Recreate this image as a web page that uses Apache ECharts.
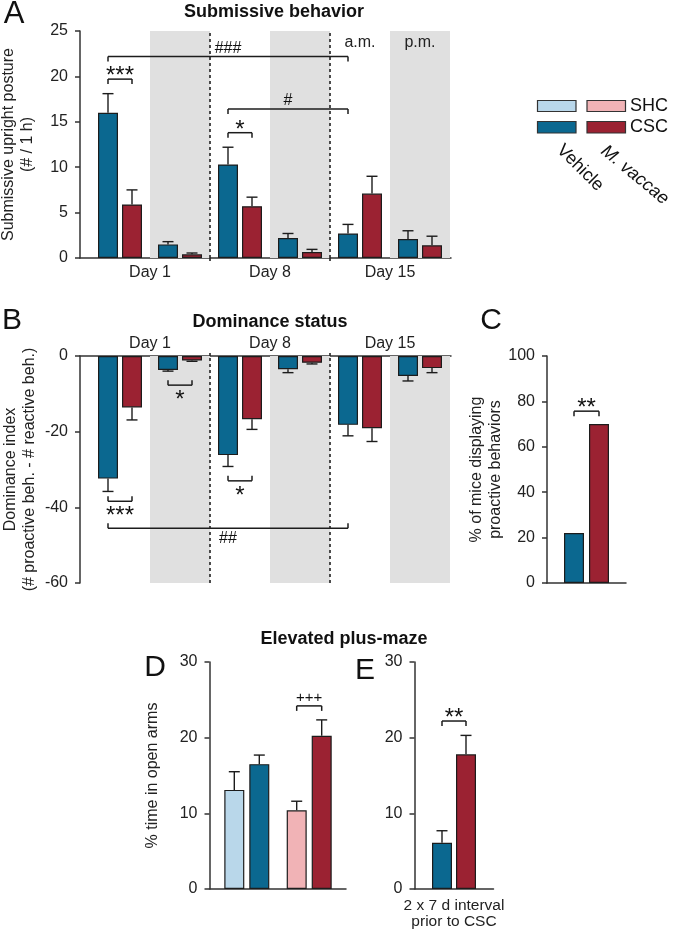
<!DOCTYPE html>
<html><head><meta charset="utf-8">
<script src="https://cdn.jsdelivr.net/npm/echarts@6/dist/echarts.min.js"></script>
<style>html,body{margin:0;padding:0;background:#fff}#c{width:677px;height:938px}</style>
</head><body><div id="c"></div>
<script>
// ---------------- data ----------------
const sessions = ['Day 1 a.m.','Day 1 p.m.','Day 8 a.m.','Day 8 p.m.','Day 15 a.m.','Day 15 p.m.'];
const dayLabels = ['Day 1','Day 8','Day 15'];
const pmBands = [[1,2],[3,4],[5,6]];
const dayDividers = [2,4];
const sessionTags = [{range:[4,5], text:'a.m.'},{range:[5,6], text:'p.m.'}];

const subAxis = [0,25,5];
const subVehicle    = [16.0, 1.5, 10.3, 2.2, 2.7, 2.1];
const subVehicleSem = [2.1, 0.3, 1.9, 0.5, 1.0, 0.9];
const subVaccae     = [5.9, 0.4, 5.7, 0.65, 7.1, 1.4];
const subVaccaeSem  = [1.6, 0.15, 1.0, 0.3, 1.9, 1.0];
const subBrackets = [
  {a:[0,0], b:[4,0], y:22.2, text:'###'},
  {a:[0,0], b:[0,1], y:19.7, text:'***'},
  {a:[2,0], b:[4,0], y:16.4, text:'#'},
  {a:[2,0], b:[2,1], y:13.8, text:'*'}
];

const domAxis = [-60,0,20];
const domVehicle    = [-32.4, -3.7, -26.2, -3.5, -18.2, -5.3];
const domVehicleSem = [3.4, 0.3, 3.0, 0.9, 2.9, 1.3];
const domVaccae     = [-13.6, -1.2, -16.7, -1.8, -19.1, -3.2];
const domVaccaeSem  = [3.3, 0.2, 2.7, 0.3, 3.5, 1.2];
const domBrackets = [
  {a:[0,0], b:[0,1], y:-38.4, text:'***'},
  {a:[1,0], b:[1,1], y:-7.7, text:'*'},
  {a:[2,0], b:[2,1], y:-33.0, text:'*'},
  {a:[0,0], b:[4,0], y:-45.5, text:'##'}
];

const proAxis = [0,100,20];
const proCategories = ['CSC'];
const proVehicle = [22];
const proVaccae = [70];
const proBrackets = [{a:[0,0], b:[0,1], y:75.7, text:'**'}];

const epmAxis = [0,30,10];
const epmCategories = ['Vehicle','M. vaccae'];
const epmSHC    = [13.1, 10.4];
const epmSHCSem = [2.4, 1.2];
const epmCSC    = [16.5, 20.25];
const epmCSCSem = [1.2, 2.1];
const epmBrackets = [{a:[1,0], b:[1,1], y:24.2, text:'+++'}];

const intCategories = ['2 x 7 d interval\nprior to CSC'];
const intVehicle = [6.1];
const intVehicleSem = [1.6];
const intVaccae = [17.8];
const intVaccaeSem = [2.5];
const intBrackets = [{a:[0,0], b:[0,1], y:22.2, text:'**'}];

// ---------------- styles ----------------
const FONT = 'Liberation Sans, Arial, sans-serif';
const VEH = '#0b6890', VAC = '#9b2232', SHC_B = '#b9d7ea', SHC_P = '#f1b3b6', BAND = '#e0e0e0';
const INK = '#222', LINE = '#333';
const axLine = {show:true, lineStyle:{color:LINE, width:1.5}};

function grid(left, top, width, height){
  return {left, top, width, height, containLabel:false, outerBoundsMode:'none'};
}
function frameY(gridIndex, ax, name, nameGap){
  return {type:'value', gridIndex, min:ax[0], max:ax[1], interval:ax[2],
    axisLine:axLine, axisTick:{show:true, length:5, lineStyle:{color:LINE, width:1.5}},
    axisLabel:{fontSize:16, color:INK, margin:12, fontFamily:FONT}, splitLine:{show:false},
    name, nameLocation:'middle', nameGap, nameRotate:90, nameMoveOverlap:false,
    nameTextStyle:{fontSize:16, color:INK, lineHeight:19, fontFamily:FONT}};
}
function hiddenY(gridIndex, ax){
  return {type:'value', gridIndex, min:ax[0], max:ax[1], interval:ax[2], show:false};
}
function frameX(gridIndex, position){
  return {type:'value', gridIndex, min:0, max:1, position, axisLine:axLine,
    axisTick:{show:false}, axisLabel:{show:false}, splitLine:{show:false}};
}
function bars(xi, yi, data, color, gap){
  return {type:'bar', xAxisIndex:xi, yAxisIndex:yi, data, barWidth:20, barGap:gap,
    itemStyle:{color, borderColor:'#1c1c1c', borderWidth:1.2}, silent:true, z:2};
}
function errs(xi, yi, vals, sems, offset){
  return {type:'custom', xAxisIndex:xi, yAxisIndex:yi, silent:true, z:3,
    data: vals.map((v,i)=>[i, v, sems[i]]),
    renderItem:(params, api)=>{
      const i = api.value(0), v = api.value(1), e = api.value(2);
      const s = v < 0 ? -1 : 1;
      const p0 = api.coord([i, v]), p1 = api.coord([i, v + s*e]);
      const x = p0[0] + offset, cap = 11;
      const st = {stroke:'#1c1c1c', lineWidth:1.4};
      return {type:'group', children:[
        {type:'line', shape:{x1:x, y1:p0[1], x2:x, y2:p1[1]}, style:st},
        {type:'line', shape:{x1:x-cap/2, y1:p1[1], x2:x+cap/2, y2:p1[1]}, style:st}
      ]};
    }};
}
function brackets(xi, yi, list, offset, dir){
  return {type:'custom', xAxisIndex:xi, yAxisIndex:yi, silent:true, z:4,
    data: list.map(b=>[b.a[0], b.y]),
    renderItem:(params, api)=>{
      const b = list[params.dataIndex];
      const pA = api.coord([b.a[0], b.y]), pB = api.coord([b.b[0], b.y]);
      const xa = pA[0] + (b.a[1] ? offset : -offset);
      const xb = pB[0] + (b.b[1] ? offset : -offset);
      const y = pA[1];
      const st = {stroke:'#1c1c1c', lineWidth:1.5};
      const ch = b.text[0];
      const fs = ch === '*' ? 24 : (ch === '+' ? 15 : 16);
      const shift = ch === '*' ? 0.23*fs : 0;
      const ty = y - dir*(dir > 0 ? 8 : 10) + shift;
      return {type:'group', children:[
        {type:'line', shape:{x1:xa, y1:y, x2:xb, y2:y}, style:st},
        {type:'line', shape:{x1:xa, y1:y, x2:xa, y2:y + 5*dir}, style:st},
        {type:'line', shape:{x1:xb, y1:y, x2:xb, y2:y + 5*dir}, style:st},
        {type:'text', x:(xa+xb)/2, y:ty, style:{text:b.text, fill:'#111', fontSize:fs, fontFamily:FONT,
          align:'center', verticalAlign:'middle', textAlign:'center', textVerticalAlign:'middle'}}
      ]};
    }};
}
function bandCarrier(xi, yi, withTags){
  const areas = pmBands.map(r=>[{xAxis:r[0], itemStyle:{color:BAND}, label:{show:false}}, {xAxis:r[1]}]);
  if (withTags) sessionTags.forEach(t=>areas.push([{xAxis:t.range[0], name:t.text, itemStyle:{color:'rgba(0,0,0,0)'}}, {xAxis:t.range[1]}]));
  return {type:'line', xAxisIndex:xi, yAxisIndex:yi, data:[[0,0]], symbol:'none', showSymbol:false,
    lineStyle:{opacity:0, width:0}, silent:true, z:0,
    markArea:{silent:true, label:{show:true, position:'insideTop', distance:4, fontSize:16, color:INK, fontFamily:FONT}, data:areas},
    markLine:{silent:true, symbol:['none','none'], label:{show:false},
      lineStyle:{type:[3,3], color:'#222', width:1.6}, data: dayDividers.map(x=>({xAxis:x}))}};
}
function txt(x, y, text, size, weight, extra){
  return Object.assign({type:'text', x, y, silent:true, style:{text, fill:'#111', fontSize:size, fontWeight:weight||'normal', fontFamily:FONT,
    align:'center', verticalAlign:'middle', textAlign:'center', textVerticalAlign:'middle'}}, extra||{});
}

// ---------------- option ----------------
const option = {
  animation:false,
  backgroundColor:'#fff',
  textStyle:{fontFamily:FONT},
  grid:[
    grid(90, 31, 360, 227),     // 0 A data
    grid(80, 31, 371, 227),     // 1 A frame
    grid(90, 356, 360, 227),    // 2 B data
    grid(80, 356, 371, 227),    // 3 B frame
    grid(547, 356, 79, 227),    // 4 C
    grid(215.6, 662, 124.8, 227), // 5 D data
    grid(209.5, 662, 136.5, 227), // 6 D frame
    grid(414.5, 662, 79, 227)   // 7 E
  ],
  xAxis:[
    {type:'category', gridIndex:0, data:sessions, show:false},
    {type:'category', gridIndex:0, data:dayLabels, position:'bottom', axisLine:{show:false}, axisTick:{show:false},
      axisLabel:{fontSize:16, color:INK, margin:7}},
    {type:'value', gridIndex:0, min:0, max:6, position:'bottom', axisLine:{show:false}, axisLabel:{show:false}, splitLine:{show:false},
      axisTick:{show:true, customValues:dayDividers, length:4, lineStyle:{type:[3,3], color:'#222', width:1.6}}},
    frameX(1, 'bottom'),
    {type:'category', gridIndex:2, data:sessions, show:false},
    {type:'category', gridIndex:2, data:dayLabels, position:'top', axisLine:{show:false}, axisTick:{show:false},
      axisLabel:{fontSize:16, color:INK, margin:4}},
    {type:'value', gridIndex:2, min:0, max:6, position:'top', axisLine:{show:false}, axisLabel:{show:false}, splitLine:{show:false},
      axisTick:{show:true, customValues:dayDividers, length:4, lineStyle:{type:[3,3], color:'#222', width:1.6}}},
    frameX(3, 'top'),
    {type:'category', gridIndex:4, data:proCategories, axisLine:axLine, axisTick:{show:false}, axisLabel:{show:false}},
    {type:'category', gridIndex:5, data:epmCategories, show:false},
    frameX(6, 'bottom'),
    {type:'category', gridIndex:7, data:intCategories, axisLine:axLine, axisTick:{show:false},
      axisLabel:{fontSize:15.5, lineHeight:16, color:INK, margin:9}}
  ],
  yAxis:[
    hiddenY(0, subAxis),
    frameY(1, subAxis, 'Submissive upright posture\n(# / 1 h)', 43),
    hiddenY(2, domAxis),
    frameY(3, domAxis, 'Dominance index\n(# proactive beh. - # reactive beh.)', 41),
    frameY(4, proAxis, '% of mice displaying\nproactive behaviors', 42),
    hiddenY(5, epmAxis),
    frameY(6, epmAxis, '% time in open arms', 47),
    frameY(7, epmAxis, '', 40)
  ],
  series:[
    bandCarrier(2, 0, true),
    bars(0, 0, subVehicle, VEH, '20%'),
    bars(0, 0, subVaccae, VAC, '20%'),
    errs(0, 0, subVehicle, subVehicleSem, -12),
    errs(0, 0, subVaccae, subVaccaeSem, 12),
    brackets(0, 0, subBrackets, 12, 1),

    bandCarrier(6, 2, false),
    bars(4, 2, domVehicle, VEH, '20%'),
    bars(4, 2, domVaccae, VAC, '20%'),
    errs(4, 2, domVehicle, domVehicleSem, -12),
    errs(4, 2, domVaccae, domVaccaeSem, 12),
    brackets(4, 2, domBrackets, 12, -1),

    bars(8, 4, proVehicle, VEH, '25%'),
    bars(8, 4, proVaccae, VAC, '25%'),
    brackets(8, 4, proBrackets, 12.5, 1),

    bars(9, 5, epmSHC, p => p.dataIndex === 0 ? SHC_B : SHC_P, '25%'),
    bars(9, 5, epmCSC, p => p.dataIndex === 0 ? VEH : VAC, '25%'),
    errs(9, 5, epmSHC, epmSHCSem, -12.5),
    errs(9, 5, epmCSC, epmCSCSem, 12.5),
    brackets(9, 5, epmBrackets, 12.5, 1),

    bars(11, 7, intVehicle, VEH, '20%'),
    bars(11, 7, intVaccae, VAC, '20%'),
    errs(11, 7, intVehicle, intVehicleSem, -12),
    errs(11, 7, intVaccae, intVaccaeSem, 12),
    brackets(11, 7, intBrackets, 12, 1)
  ],
  graphic:[
    txt(274, 12, 'Submissive behavior', 18, 'bold'),
    txt(270, 322, 'Dominance status', 18, 'bold'),
    txt(344, 639, 'Elevated plus-maze', 18, 'bold'),
    txt(14, 14, 'A', 31),
    txt(12, 321, 'B', 30),
    txt(491, 321, 'C', 30),
    txt(155, 668, 'D', 30),
    txt(365, 671, 'E', 30),
    {type:'rect', silent:true, shape:{x:537.5, y:100.5, width:38.5, height:11}, style:{fill:SHC_B, stroke:'#333', lineWidth:1.2}},
    {type:'rect', silent:true, shape:{x:587, y:100.5, width:38.5, height:11}, style:{fill:SHC_P, stroke:'#333', lineWidth:1.2}},
    {type:'rect', silent:true, shape:{x:537.5, y:121.5, width:38.5, height:11.5}, style:{fill:VEH, stroke:'#333', lineWidth:1.2}},
    {type:'rect', silent:true, shape:{x:587, y:121.5, width:38.5, height:11.5}, style:{fill:VAC, stroke:'#333', lineWidth:1.2}},
    {type:'text', silent:true, x:630, y:106.5, style:{text:'SHC', fill:'#111', fontSize:18, fontFamily:FONT, align:'left', verticalAlign:'middle', textAlign:'left', textVerticalAlign:'middle'}},
    {type:'text', silent:true, x:630, y:127.5, style:{text:'CSC', fill:'#111', fontSize:18, fontFamily:FONT, align:'left', verticalAlign:'middle', textAlign:'left', textVerticalAlign:'middle'}},
    {type:'text', silent:true, x:566, y:141, rotation:-Math.PI/4, style:{text:'Vehicle', fill:'#111', fontSize:18, fontFamily:FONT, align:'left', verticalAlign:'top', textAlign:'left', textVerticalAlign:'top'}},
    {type:'text', silent:true, x:609, y:142, rotation:-Math.PI*0.22, style:{text:'M. vaccae', fill:'#111', fontSize:18, fontStyle:'italic', fontFamily:FONT, align:'left', verticalAlign:'top', textAlign:'left', textVerticalAlign:'top'}}
  ]
};
const chart = echarts.init(document.getElementById('c'), null, {renderer:'canvas'});
chart.setOption(option);
</script></body></html>
